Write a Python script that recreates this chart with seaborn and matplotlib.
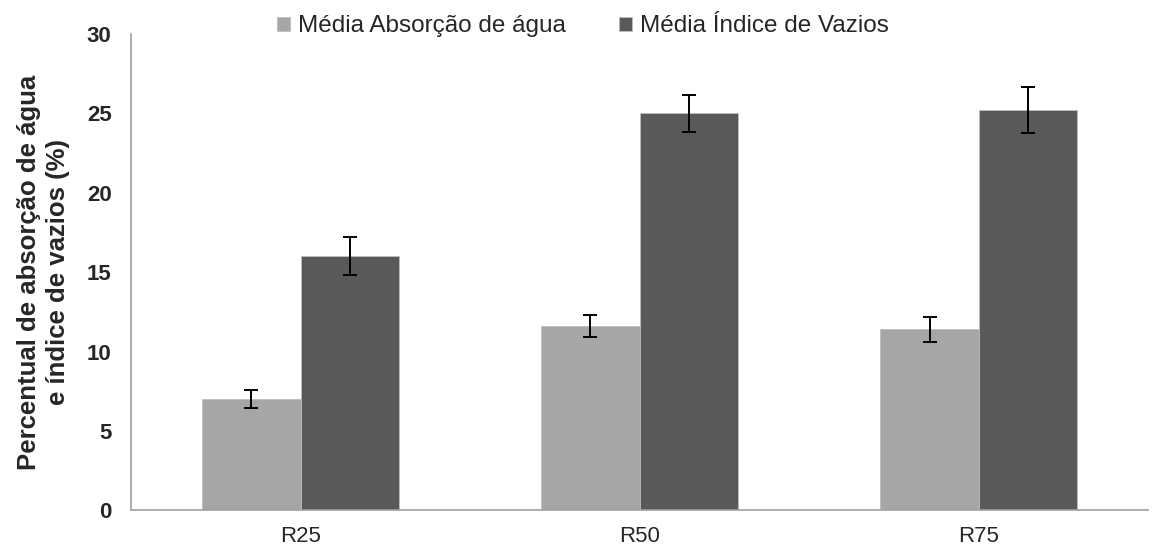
import pandas as pd
import matplotlib.pyplot as plt
import seaborn as sns

# values
categorias = ['R25', 'R50', 'R75']
absorcao = [7.0, 11.6, 11.4]
absorcao_err = [0.58, 0.68, 0.78]
vazios = [16.05, 25.0, 25.2]
vazios_err = [1.2, 1.15, 1.45]
series = ['Média Absorção de água', 'Média Índice de Vazios']

sns.set_style('white')
plt.rcParams['font.family'] = ['Liberation Sans', 'DejaVu Sans']

data = pd.DataFrame({
    'cat': categorias * 2,
    'valor': absorcao + vazios,
    'erro': absorcao_err + vazios_err,
    'serie': [series[0]] * 3 + [series[1]] * 3,
})

fig = plt.figure(figsize=(11.54, 5.5), dpi=100)
ax = fig.add_axes([0.1135, 0.072, 0.8815, 0.866])

sns.barplot(data=data, x='cat', y='valor', hue='serie',
            palette=['#a6a6a6', '#595959'], width=0.58,
            edgecolor='#bdbdbd', linewidth=0.6, errorbar=None, ax=ax)

# error bars on top of each bar
for cont, (_, grp) in zip(ax.containers, data.groupby('serie', sort=False)):
    xs = [p.get_x() + p.get_width() / 2 for p in cont.patches]
    ax.errorbar(xs, grp['valor'], yerr=grp['erro'], fmt='none',
                ecolor='black', elinewidth=1.4, capsize=5, capthick=1.4)

ax.set_ylim(0, 30)
ax.set_xlim(-0.5, 2.5)
ax.set_yticks([0, 5, 10, 15, 20, 25, 30])
ax.set_xlabel('')
ax.set_ylabel('Percentual de absorção de água\ne índice de vazios (%)',
              fontsize=18.5, fontweight='bold', labelpad=12, linespacing=1.25)

for s in ['top', 'right']:
    ax.spines[s].set_visible(False)
for s in ['left', 'bottom']:
    ax.spines[s].set_color('#a0a0a0')
    ax.spines[s].set_linewidth(1.2)

ax.tick_params(axis='y', direction='inout', length=12, color='#a0a0a0',
               width=1.2, labelsize=16, pad=8)
for lbl in ax.get_yticklabels():
    lbl.set_fontweight('bold')
ax.tick_params(axis='x', length=0, labelsize=16, pad=11)

ax.legend(loc='upper center', bbox_to_anchor=(0.444, 1.085), ncol=2,
          frameon=False, fontsize=17.5, handlelength=0.55, handleheight=0.55,
          handletextpad=0.3, columnspacing=2.2)

plt.savefig('out.png', dpi=100)
